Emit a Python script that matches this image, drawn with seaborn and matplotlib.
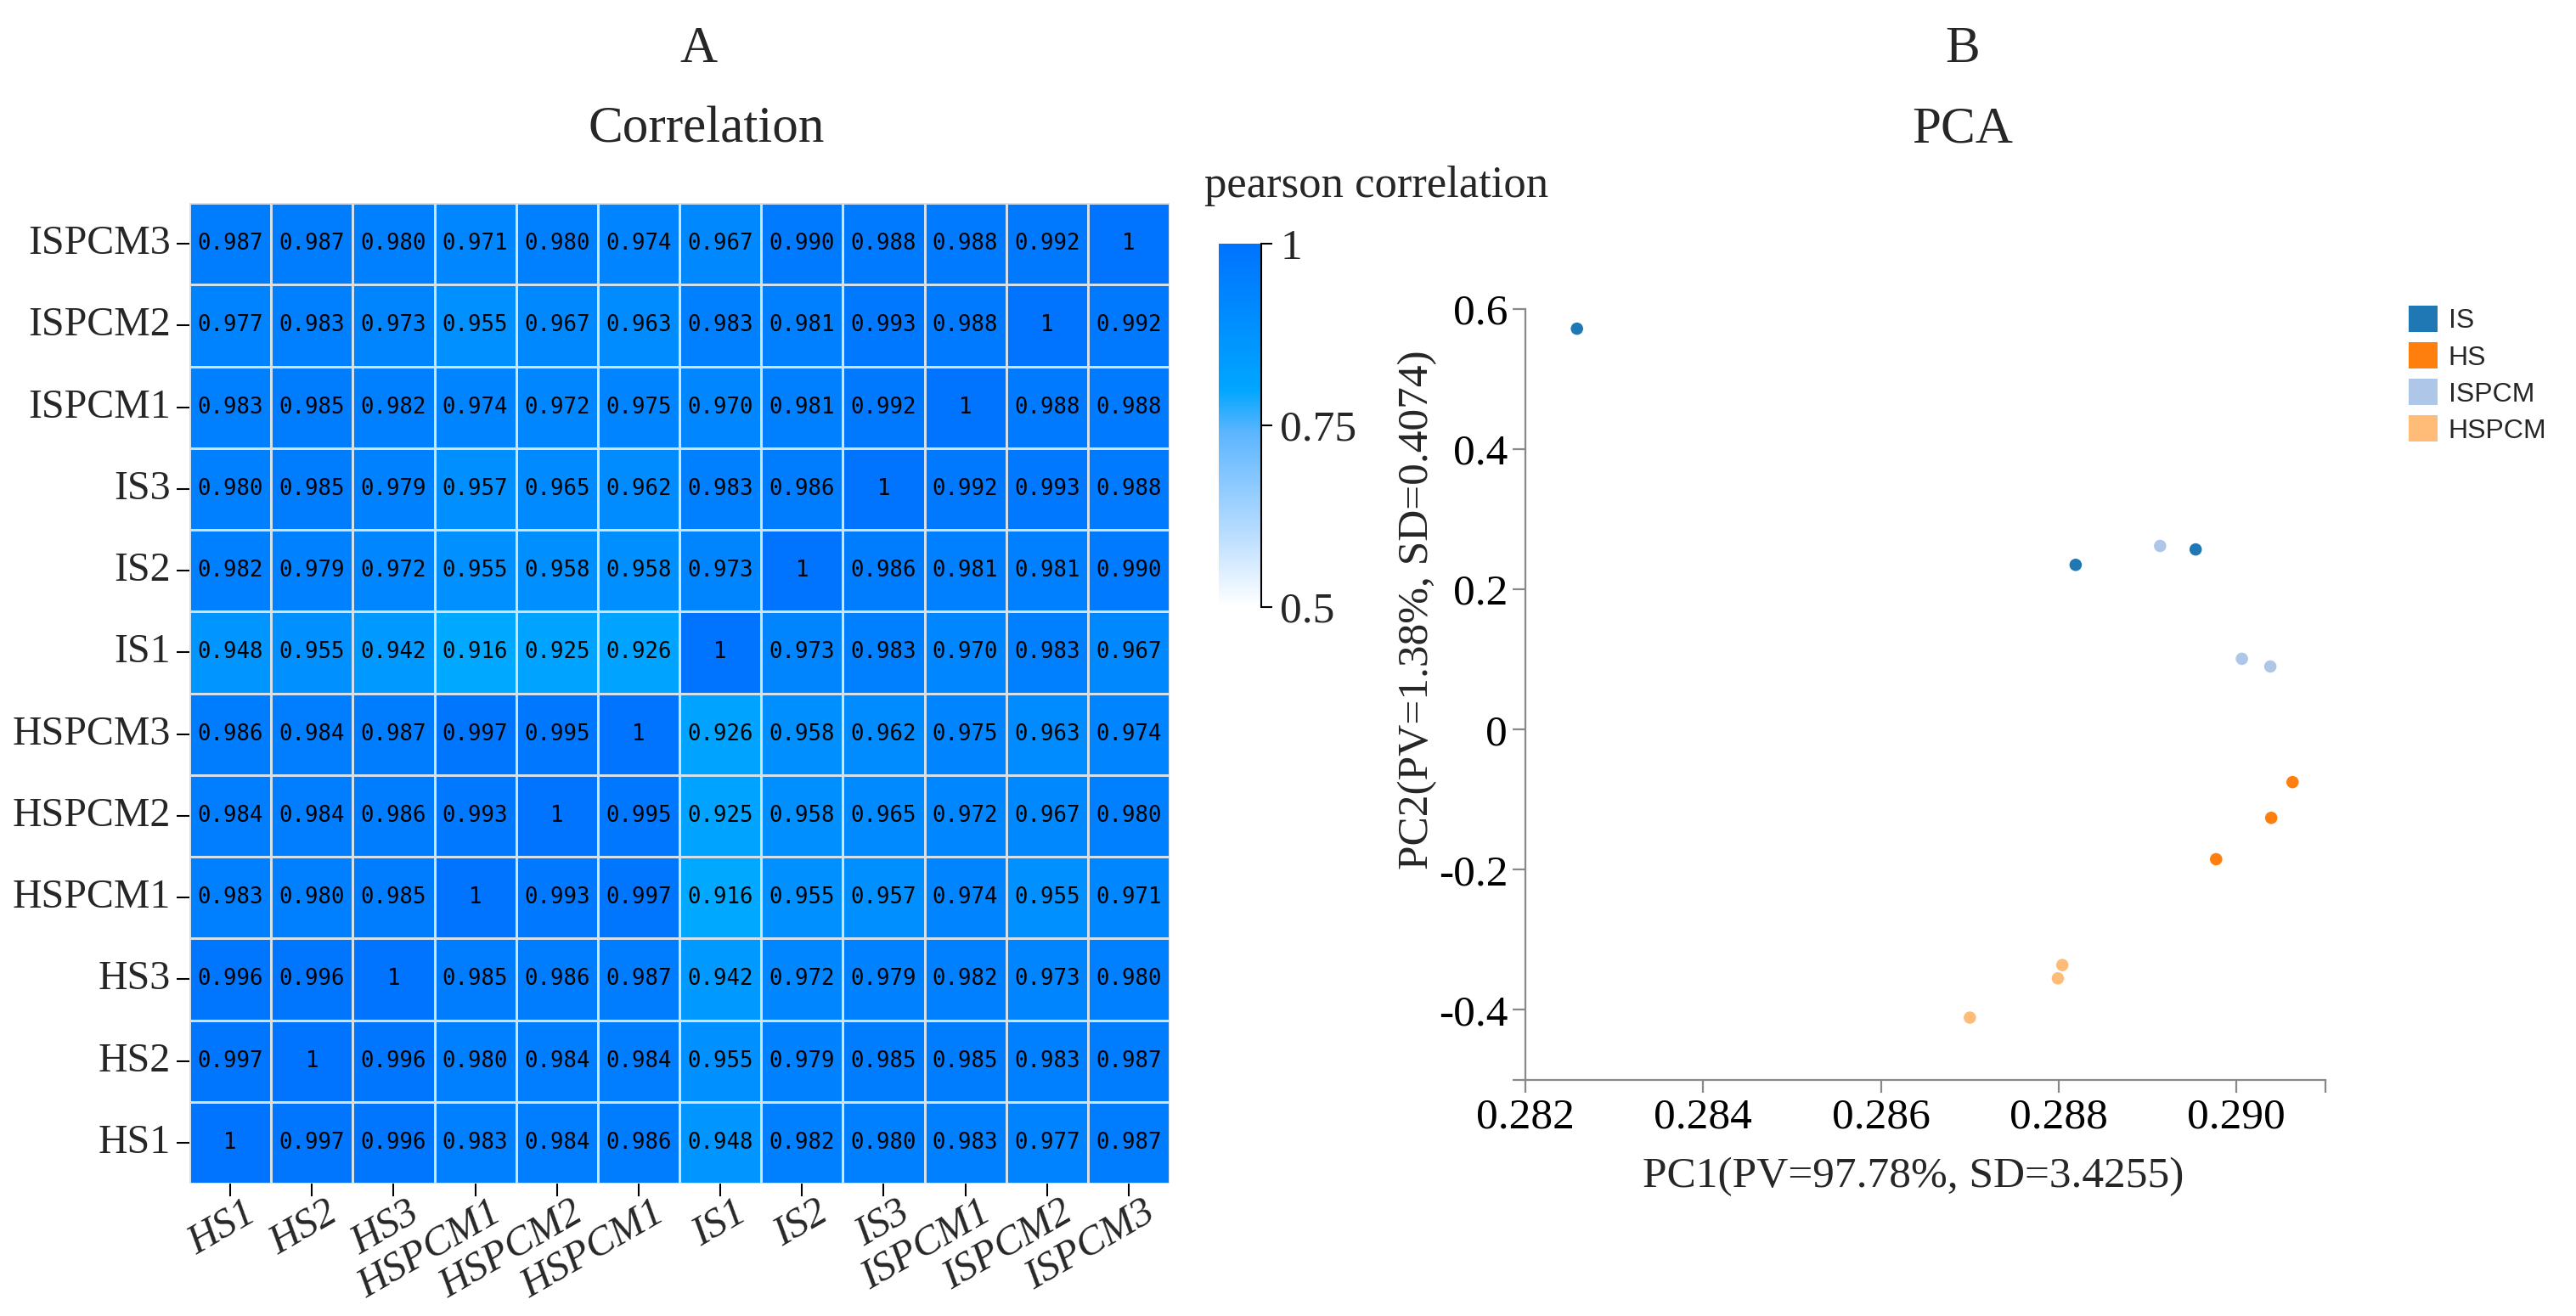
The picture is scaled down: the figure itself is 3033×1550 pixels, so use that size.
import numpy as np
import pandas as pd
import matplotlib
matplotlib.use("Agg")
import matplotlib.pyplot as plt
import matplotlib.colors as mcolors
from matplotlib.patches import Patch
import matplotlib.transforms as mtransforms
import seaborn as sns

# ---------------- data ----------------
row_names = ["HS1", "HS2", "HS3", "HSPCM1", "HSPCM2", "HSPCM3",
             "IS1", "IS2", "IS3", "ISPCM1", "ISPCM2", "ISPCM3"]
col_labels = ["HS1", "HS2", "HS3", "HSPCM1", "HSPCM2", "HSPCM1",
              "IS1", "IS2", "IS3", "ISPCM1", "ISPCM2", "ISPCM3"]

r_HS1 = [1, 0.997, 0.996, 0.983, 0.984, 0.986, 0.948, 0.982, 0.980, 0.983, 0.977, 0.987]
r_HS2 = [0.997, 1, 0.996, 0.980, 0.984, 0.984, 0.955, 0.979, 0.985, 0.985, 0.983, 0.987]
r_HS3 = [0.996, 0.996, 1, 0.985, 0.986, 0.987, 0.942, 0.972, 0.979, 0.982, 0.973, 0.980]
r_HSPCM1 = [0.983, 0.980, 0.985, 1, 0.993, 0.997, 0.916, 0.955, 0.957, 0.974, 0.955, 0.971]
r_HSPCM2 = [0.984, 0.984, 0.986, 0.993, 1, 0.995, 0.925, 0.958, 0.965, 0.972, 0.967, 0.980]
r_HSPCM3 = [0.986, 0.984, 0.987, 0.997, 0.995, 1, 0.926, 0.958, 0.962, 0.975, 0.963, 0.974]
r_IS1 = [0.948, 0.955, 0.942, 0.916, 0.925, 0.926, 1, 0.973, 0.983, 0.970, 0.983, 0.967]
r_IS2 = [0.982, 0.979, 0.972, 0.955, 0.958, 0.958, 0.973, 1, 0.986, 0.981, 0.981, 0.990]
r_IS3 = [0.980, 0.985, 0.979, 0.957, 0.965, 0.962, 0.983, 0.986, 1, 0.992, 0.993, 0.988]
r_ISPCM1 = [0.983, 0.985, 0.982, 0.974, 0.972, 0.975, 0.970, 0.981, 0.992, 1, 0.988, 0.988]
r_ISPCM2 = [0.977, 0.983, 0.973, 0.955, 0.967, 0.963, 0.983, 0.981, 0.993, 0.988, 1, 0.992]
r_ISPCM3 = [0.987, 0.987, 0.980, 0.971, 0.980, 0.974, 0.967, 0.990, 0.988, 0.988, 0.992, 1]

pca_group = ["IS", "IS", "IS", "HS", "HS", "HS",
             "ISPCM", "ISPCM", "ISPCM", "HSPCM", "HSPCM", "HSPCM"]
pca_pc1 = [0.28258, 0.28819, 0.28954, 0.29063, 0.29039, 0.28977,
           0.28914, 0.29006, 0.29038, 0.28804, 0.28799, 0.28700]
pca_pc2 = [0.572, 0.235, 0.257, -0.075, -0.126, -0.185,
           0.262, 0.101, 0.090, -0.336, -0.355, -0.411]
group_order = ["IS", "HS", "ISPCM", "HSPCM"]
group_colors = ["#1f77b4", "#ff7f0e", "#aec7e8", "#ffbb78"]

# ---------------- style ----------------
sns.set_theme(style="white")
plt.rcParams["font.family"] = ["Liberation Serif", "DejaVu Sans"]

W, H = 3033, 1550
fig = plt.figure(figsize=(W / 100, H / 100), dpi=100)


def fx(px):
    return px / W


def fy(py):
    return 1 - py / H


# ---------------- heatmap ----------------
corr = pd.DataFrame([r_HS1, r_HS2, r_HS3, r_HSPCM1, r_HSPCM2, r_HSPCM3,
                     r_IS1, r_IS2, r_IS3, r_ISPCM1, r_ISPCM2, r_ISPCM3],
                    index=row_names, columns=col_labels)
corr_disp = corr.iloc[::-1]
annot = corr_disp.map(lambda v: "1" if v >= 0.9995 else f"{v:.3f}").values

ax_h = fig.add_axes([fx(223), fy(1394), fx(1154), 1155 / H])
cell_cmap = mcolors.LinearSegmentedColormap.from_list("cell", ["#00a9ff", "#0074ff"])
sns.heatmap(corr_disp, ax=ax_h, cmap=cell_cmap, vmin=0.916, vmax=1.0, cbar=False,
            annot=annot, fmt="",
            annot_kws={"fontsize": 18.5, "family": "DejaVu Sans Mono", "color": "black"},
            linewidths=1.0, linecolor="#d3e0ee", square=False)
ax_h.set_xlabel("")
ax_h.set_ylabel("")
ax_h.tick_params(axis="both", which="major", length=11, width=1.5, color="black",
                 left=True, bottom=True, labelsize=34, pad=5)
ax_h.set_yticklabels(ax_h.get_yticklabels(), rotation=0, fontsize=34.5)
ax_h.set_xticklabels(ax_h.get_xticklabels(), rotation=30, ha="right", va="top",
                     rotation_mode="anchor", fontsize=35, fontstyle="italic")
offset = mtransforms.ScaledTranslation(16 / 100, 10 / 100, fig.dpi_scale_trans)
for lab in ax_h.get_xticklabels():
    lab.set_transform(lab.get_transform() + offset)

# colorbar
full_cmap = mcolors.LinearSegmentedColormap.from_list(
    "full", [(0.0, "#ffffff"), (0.2, "#b9ddff"), (0.48, "#5cb5ff"),
             (0.6, "#00a6ff"), (1.0, "#0073ff")])
cax = fig.add_axes([fx(1435), fy(715), fx(50), 428 / H])
sm = plt.cm.ScalarMappable(norm=mcolors.Normalize(0.5, 1.0), cmap=full_cmap)
cb = fig.colorbar(sm, cax=cax)
cb.outline.set_visible(False)
cax.spines["right"].set_visible(True)
cax.spines["right"].set_color("black")
cax.spines["right"].set_linewidth(1.5)
cb.set_ticks([0.5, 0.75, 1.0])
cb.set_ticklabels(["0.5", "0.75", "1"])
cax.tick_params(length=9, width=1.5, color="black", labelsize=37, pad=7, right=True)
fig.text(fx(1418), fy(232), "pearson correlation", fontsize=38, ha="left", va="baseline")

# ---------------- PCA ----------------
pca = pd.DataFrame({"PC1": pca_pc1, "PC2": pca_pc2, "group": pca_group})
ax_p = fig.add_axes([fx(1796), fy(1272), fx(942), 908 / H])
sns.scatterplot(data=pca, x="PC1", y="PC2", hue="group", hue_order=group_order,
                palette=group_colors, s=110, linewidth=0, ax=ax_p, legend=False)
ax_p.set_xlim(0.282, 0.291)
ax_p.set_ylim(-0.5, 0.6)
xt = [0.282, 0.284, 0.286, 0.288, 0.290]
yt = [-0.4, -0.2, 0, 0.2, 0.4, 0.6]
ax_p.set_xticks(xt)
ax_p.set_xticklabels([f"{v:.3f}" for v in xt])
ax_p.set_yticks(yt)
ax_p.set_yticklabels(["-0.4", "-0.2", "0", "0.2", "0.4", "0.6"])
ax_p.set_xticks([0.291], minor=True)
ax_p.set_yticks([-0.5], minor=True)
for s in ["top", "right"]:
    ax_p.spines[s].set_visible(False)
for s in ["left", "bottom"]:
    ax_p.spines[s].set_color("#888888")
    ax_p.spines[s].set_linewidth(1.6)
ax_p.tick_params(axis="both", which="both", length=11, width=1.6, color="#888888",
                 left=True, bottom=True, labelsize=37, pad=4, labelcolor="black")
ax_p.set_xlabel("PC1(PV=97.78%, SD=3.4255)", fontsize=37)
ax_p.set_ylabel("PC2(PV=1.38%, SD=0.4074)", fontsize=37)
ax_p.xaxis.set_label_coords(0.485, -0.125)
ax_p.xaxis.label.set_va("center")
ax_p.yaxis.set_label_coords(-0.135, 0.61)
ax_p.yaxis.label.set_va("center")

handles = [Patch(facecolor=c, edgecolor="none", label=g) for g, c in zip(group_order, group_colors)]
fig.legend(handles=handles, loc="upper left", bbox_to_anchor=(fx(2836), fy(360)),
           bbox_transform=fig.transFigure, frameon=False,
           prop={"family": "Liberation Sans", "size": 23},
           handlelength=1.06, handleheight=1.13, handletextpad=0.4,
           labelspacing=0.3, borderpad=0, borderaxespad=0)

# ---------------- titles ----------------
fig.text(fx(823), fy(73), "A", fontsize=44, ha="center", va="baseline")
fig.text(fx(832), fy(168), "Correlation", fontsize=44, ha="center", va="baseline")
fig.text(fx(2311), fy(73), "B", fontsize=44, ha="center", va="baseline")
fig.text(fx(2311), fy(168), "PCA", fontsize=44, ha="center", va="baseline")

fig.savefig("out.png", dpi=100, facecolor="white")
